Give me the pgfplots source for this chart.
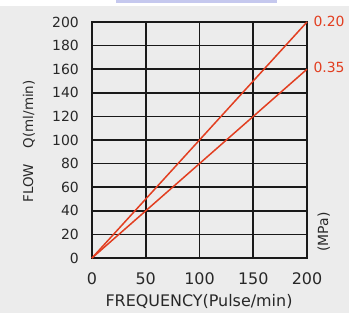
\documentclass[border=0pt]{standalone}
\usepackage{fontspec}
\setmainfont{DejaVu Sans}
\usepackage{pgfplots}
\pgfplotsset{compat=1.18}
\definecolor{bggray}{RGB}{236,236,236}
\definecolor{lav}{RGB}{197,200,238}
\definecolor{redl}{RGB}{226,62,32}
\definecolor{txt}{RGB}{40,40,40}
\begin{document}
\begin{tikzpicture}[x=1bp,y=1bp]
\useasboundingbox (0,0) rectangle (349,313);
\fill[bggray] (0,0) rectangle (349,307);
\fill[white] (0,307) rectangle (349,313);
\fill[lav] (116,310) rectangle (277,313);
\begin{axis}[
  at={(92bp,55bp)}, anchor=south west,
  scale only axis, width=215bp, height=236bp,
  xmin=0, xmax=200, ymin=0, ymax=200,
  xtick={0,50,100,150,200}, ytick={0,20,...,200},
  grid=major, major grid style={draw=black!90, line width=1.6bp},
  axis line style={black!90, line width=1.6bp},
  major tick length=0pt,
  /pgf/number format/assume math mode=true,
  yticklabel style={font=\fontsize{14}{14}\selectfont, text=txt, anchor=east, inner sep=0pt, xshift=-13bp},
  xticklabel style={font=\fontsize{16}{16}\selectfont, text=txt, anchor=north, inner sep=0pt, yshift=-14.5bp},
  clip=false,
]
\addplot[redl, line width=1.5bp] coordinates {(0,0) (200,200)};
\addplot[redl, line width=1.5bp] coordinates {(0,0) (200,160)};
\end{axis}
\node[anchor=base, inner sep=0pt, font=\fontsize{16}{16}\selectfont, text=txt] at (199,6.5) {FREQUENCY(Pulse/min)};
\node[anchor=base, rotate=90, inner sep=0pt, font=\fontsize{13.5}{13.5}\selectfont, text=txt] at (33,171.5) {FLOW\hspace{16bp}Q(ml/min)};
\node[anchor=base, rotate=90, inner sep=0pt, font=\fontsize{14}{14}\selectfont, text=txt] at (328,81) {(MPa)};
\node[anchor=base west, inner sep=0pt, font=\fontsize{14}{14}\selectfont, text=redl] at (313.3,286.3) {0.20};
\node[anchor=base west, inner sep=0pt, font=\fontsize{14}{14}\selectfont, text=redl] at (313.3,240.7) {0.35};
\end{tikzpicture}
\end{document}
